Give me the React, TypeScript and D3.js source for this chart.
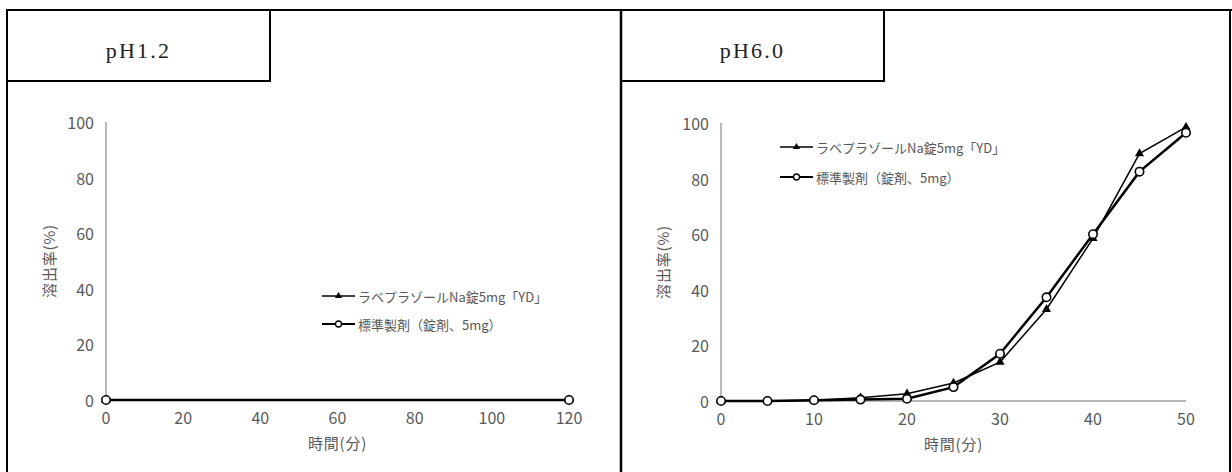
import React from "react";
import * as d3 from "d3";

// ---- Data ----
const titles = ["pH1.2", "pH6.0"];
const seriesNames = ["ラベプラゾールNa錠5mg「YD」", "標準製剤（錠剤、5mg）"];

const ph12Times = [0, 120];
const ph12Test = [0, 0];
const ph12Ref = [0, 0];
const ph12XTicks = [0, 20, 40, 60, 80, 100, 120];

const ph60Times = [0, 5, 10, 15, 20, 25, 30, 35, 40, 45, 50];
const ph60Test = [0, 0, 0.3, 1.2, 2.6, 6.5, 14, 33, 58.5, 89, 98.5];
const ph60Ref = [0, 0, 0.3, 0.5, 0.8, 5, 17, 37.3, 60, 82.5, 96.5];
const ph60XTicks = [0, 10, 20, 30, 40, 50];

const yTicks = [0, 20, 40, 60, 80, 100];
const yLabel = "溶出率(%)";
const xLabel = "時間(分)";

const FONT = "'Noto Sans CJK JP', 'Noto Sans', sans-serif";
const TICK_COLOR = "#595959";
const AXIS_COLOR = "#a0a0a0";

type PanelProps = {
  title: string;
  panelX0: number;
  panelX1: number;
  titleBoxX1: number;
  times: number[];
  test: number[];
  ref: number[];
  xTicks: number[];
  xDomain: [number, number];
  xRange: [number, number];
  yRange: [number, number];
  legendX: number;
  legendY: [number, number];
  yLabelX: number;
};

const triPath = (size: number) => d3.symbol().type(d3.symbolTriangle).size(size)() as string;

function Panel(p: PanelProps) {
  const x = d3.scaleLinear().domain(p.xDomain).range(p.xRange);
  const y = d3.scaleLinear().domain([0, 100]).range(p.yRange);
  const line = d3
    .line<[number, number]>()
    .x((d) => x(d[0]))
    .y((d) => y(d[1]));
  const testPts: [number, number][] = p.times.map((t, i) => [t, p.test[i]]);
  const refPts: [number, number][] = p.times.map((t, i) => [t, p.ref[i]]);
  const titleCx = (p.panelX0 + p.titleBoxX1) / 2;
  const axisX = p.xRange[0];
  const y0 = p.yRange[0];
  const lx0 = p.legendX;
  const lx1 = p.legendX + 33;
  const lxm = (lx0 + lx1) / 2;

  return (
    <g>
      {/* title box */}
      <line x1={p.titleBoxX1} x2={p.titleBoxX1} y1={10} y2={81.5} stroke="#000" strokeWidth={2} />
      <line x1={p.panelX0} x2={p.titleBoxX1 + 1} y1={81} y2={81} stroke="#000" strokeWidth={2} />
      <text
        x={titleCx}
        y={50}
        textAnchor="middle"
        dominantBaseline="central"
        fontFamily="'Liberation Serif', 'DejaVu Serif', serif"
        fontSize={22}
        letterSpacing={2.2}
        fill="#222"
      >
        {p.title}
      </text>

      {/* axes */}
      <line x1={axisX} x2={axisX} y1={y(0)} y2={y(100)} stroke={AXIS_COLOR} strokeWidth={1.5} />
      <line x1={p.xRange[0]} x2={p.xRange[1]} y1={y0} y2={y0} stroke={AXIS_COLOR} strokeWidth={1.5} />

      {yTicks.map((t) => (
        <text
          key={"y" + t}
          x={axisX - 12}
          y={y(t)}
          textAnchor="end"
          dominantBaseline="central"
          fontFamily={FONT}
          fontSize={16}
          fill={TICK_COLOR}
        >
          {t}
        </text>
      ))}
      {p.xTicks.map((t) => (
        <text
          key={"x" + t}
          x={x(t)}
          y={y0 + 17}
          textAnchor="middle"
          dominantBaseline="central"
          fontFamily={FONT}
          fontSize={16}
          fill={TICK_COLOR}
        >
          {t}
        </text>
      ))}

      <text
        transform={`translate(${p.yLabelX},${y(50)}) rotate(-90)`}
        textAnchor="middle"
        dominantBaseline="central"
        fontFamily={FONT}
        fontSize={15}
        letterSpacing={0.8}
        fill={TICK_COLOR}
      >
        {yLabel}
      </text>
      <text
        x={(p.xRange[0] + p.xRange[1]) / 2}
        y={y0 + 42}
        textAnchor="middle"
        dominantBaseline="central"
        fontFamily={FONT}
        fontSize={15}
        letterSpacing={0.8}
        fill={TICK_COLOR}
      >
        {xLabel}
      </text>

      {/* series lines */}
      <path d={line(testPts) as string} fill="none" stroke="#000" strokeWidth={1.5} />
      <path d={line(refPts) as string} fill="none" stroke="#000" strokeWidth={2.5} />
      {testPts.map((d, i) => (
        <path key={"tm" + i} d={triPath(36)} transform={`translate(${x(d[0])},${y(d[1])})`} fill="#000" />
      ))}
      {refPts.map((d, i) => (
        <circle key={"rm" + i} cx={x(d[0])} cy={y(d[1])} r={4.2} fill="#fff" stroke="#000" strokeWidth={1.6} />
      ))}

      {/* legend */}
      <line x1={lx0} x2={lx1} y1={p.legendY[0]} y2={p.legendY[0]} stroke="#000" strokeWidth={1.6} />
      <path d={triPath(22)} transform={`translate(${lxm},${p.legendY[0]})`} fill="#000" />
      <text
        x={lx1 + 3}
        y={p.legendY[0]}
        dominantBaseline="central"
        fontFamily={FONT}
        fontSize={13}
        fill={TICK_COLOR}
      >
        {seriesNames[0]}
      </text>
      <line x1={lx0} x2={lx1} y1={p.legendY[1]} y2={p.legendY[1]} stroke="#000" strokeWidth={2.2} />
      <circle cx={lxm} cy={p.legendY[1]} r={3} fill="#fff" stroke="#000" strokeWidth={1.3} />
      <text
        x={lx1 + 3}
        y={p.legendY[1]}
        dominantBaseline="central"
        fontFamily={FONT}
        fontSize={13}
        fill={TICK_COLOR}
      >
        {seriesNames[1]}
      </text>
    </g>
  );
}

export default function App() {
  return (
    <svg
      width={1232}
      height={472}
      style={{ position: "absolute", left: 0, top: 0, background: "#fff" }}
    >
      <rect x={0} y={0} width={1232} height={472} fill="#fff" />
      {/* frame */}
      <line x1={6} x2={1232} y1={10} y2={10} stroke="#000" strokeWidth={2} />
      <line x1={7} x2={7} y1={9} y2={472} stroke="#000" strokeWidth={2} />
      <line x1={621} x2={621} y1={9} y2={472} stroke="#000" strokeWidth={2.5} />
      <line x1={1230} x2={1230} y1={9} y2={472} stroke="#000" strokeWidth={2} />

      <Panel
        title={titles[0]}
        panelX0={7}
        panelX1={620}
        titleBoxX1={270}
        times={ph12Times}
        test={ph12Test}
        ref={ph12Ref}
        xTicks={ph12XTicks}
        xDomain={[0, 120]}
        xRange={[106, 569]}
        yRange={[400, 122]}
        legendX={322}
        legendY={[296, 324]}
        yLabelX={48}
      />
      <Panel
        title={titles[1]}
        panelX0={621}
        panelX1={1230}
        titleBoxX1={884}
        times={ph60Times}
        test={ph60Test}
        ref={ph60Ref}
        xTicks={ph60XTicks}
        xDomain={[0, 50]}
        xRange={[721, 1186]}
        yRange={[401, 123]}
        legendX={780}
        legendY={[147, 177]}
        yLabelX={662}
      />
    </svg>
  );
}
